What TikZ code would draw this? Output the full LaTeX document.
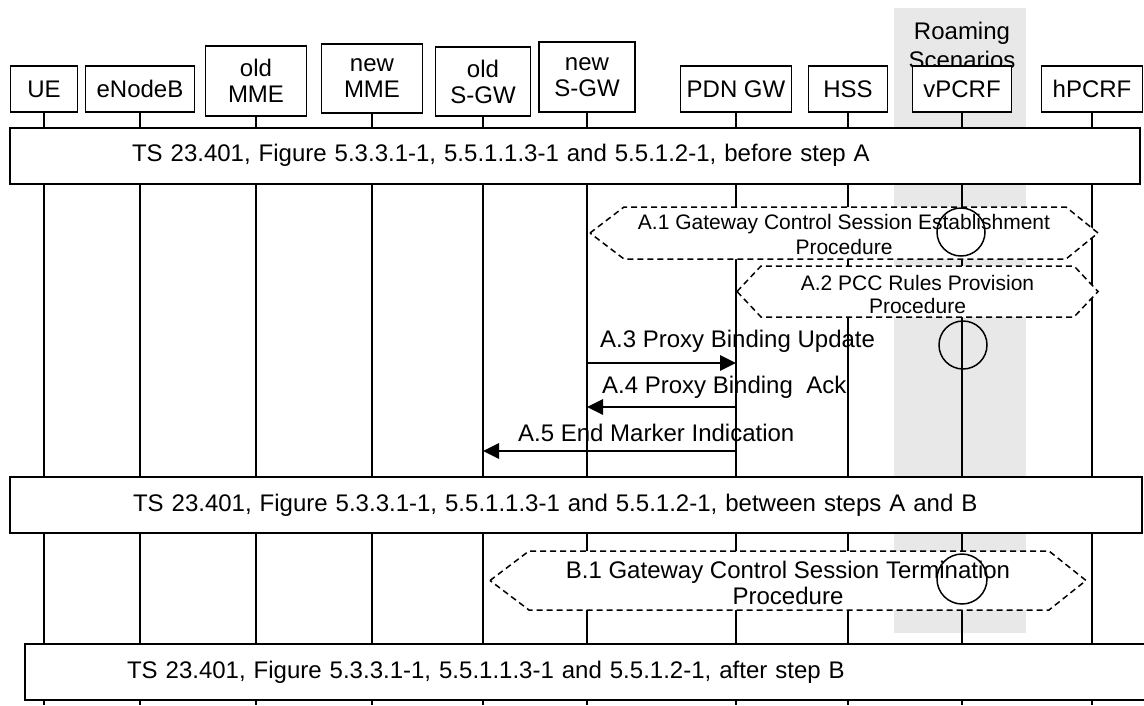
\documentclass[tikz,border=0pt]{standalone}
\usepackage{fontspec}
\setmainfont{Liberation Sans}
\usepackage{xcolor}
\usetikzlibrary{arrows.meta}
\definecolor{roamgrey}{RGB}{232,232,232}

\begin{document}
\begin{tikzpicture}[x=1pt, y=-1pt,
      ent/.style={draw, fill=white, line width=1.5pt, align=center, inner sep=0pt,
        font=\fontsize{24}{26}\selectfont},
      bar/.style={draw, fill=white, line width=2pt, align=left, inner ysep=0pt,
        minimum height=56pt, font=\fontsize{24}{28}\selectfont},
      life/.style={line width=1.2pt},
      hexa/.style={draw, fill=white, dash pattern=on 6pt off 4pt, line width=1.5pt},
      proc/.style={align=center, inner sep=0pt},
      ring/.style={draw, circle, line width=1.5pt, inner sep=0pt, minimum size=48pt},
      arr/.style={-{Triangle[length=16pt, width=15pt]}, line width=2.8pt},
      lbl/.style={anchor=base west, inner sep=0pt, font=\fontsize{24}{28}\selectfont}
    ]
    \useasboundingbox (0,0) rectangle (1144,705);
    \fill[roamgrey] (894,8) rectangle (1026,633);
    \node[align=center, inner sep=0pt, font=\fontsize{24}{29}\selectfont] (roam) at (962,45) {Roaming\\Scenarios};

    \node[ent, minimum width=67pt, minimum height=46pt] (ue) at (44,89) {UE};
    \node[ent, minimum width=109pt, minimum height=46pt] (enb) at (140,89) {eNodeB};
    \node[ent, minimum width=101pt, minimum height=70pt] (mme-old) at (256,81) {old\\MME};
    \node[ent, minimum width=101pt, minimum height=69pt] (mme-new) at (372,78.5) {new\\MME};
    \node[ent, minimum width=95pt, minimum height=69pt] (sgw-old) at (483,81.5) {old\\S-GW};
    \node[ent, minimum width=96pt, minimum height=70pt] (sgw-new) at (587,77) {new\\S-GW};
    \node[ent, minimum width=111pt, minimum height=46pt] (pgw) at (736,89) {PDN GW};
    \node[ent, minimum width=79pt, minimum height=46pt] (hss) at (848,89) {HSS};
    \node[ent, minimum width=99pt, minimum height=46pt] (vpcrf) at (962,89) {vPCRF};
    \node[ent, minimum width=101pt, minimum height=46pt] (hpcrf) at (1092,89) {hPCRF};

    \coordinate (bot) at (0,705);
    \draw[life] (ue) -- (ue |- bot);
    \draw[life] (enb) -- (enb |- bot);
    \draw[life] (mme-old) -- (mme-old |- bot);
    \draw[life] (mme-new) -- (mme-new |- bot);
    \draw[life] (sgw-old) -- (sgw-old |- bot);
    \draw[life] (sgw-new) -- (sgw-new |- bot);
    \draw[life] (pgw) -- (pgw |- bot);
    \draw[life] (hss) -- (hss |- bot);
    \draw[life] (vpcrf) -- (vpcrf |- bot);
    \draw[life] (hpcrf) -- (hpcrf |- bot);

    \node[bar, minimum width=1130pt, text width=886pt, inner xsep=122pt] (before-a) at (575,155.5)
      {TS 23.401, Figure 5.3.3.1-1, 5.5.1.1.3-1 and 5.5.1.2-1, before step A};
    \node[bar, minimum width=1132pt, text width=886pt, inner xsep=123pt] (between-ab) at (576,505)
      {TS 23.401, Figure 5.3.3.1-1, 5.5.1.1.3-1 and 5.5.1.2-1, between steps A and B};
    \node[bar, minimum width=1125pt, text width=921pt, inner xsep=102pt] (after-b) at (587.5,672)
      {TS 23.401, Figure 5.3.3.1-1, 5.5.1.1.3-1 and 5.5.1.2-1, after step B};

    \path[hexa] (590,233) -- (624,207) -- (1066,207) -- (1098,233) -- (1066,259) -- (624,259) -- cycle;
    \path[hexa] (737,291.5) -- (761,266) -- (1074,266) -- (1098,291.5) -- (1074,317) -- (761,317) -- cycle;
    \path[hexa] (490,580.5) -- (529,551) -- (1049,551) -- (1086,580.5) -- (1049,610) -- (529,610) -- cycle;

    \node[proc, font=\fontsize{21}{25}\selectfont] (gw-est) at (844,234)
      {A.1 Gateway Control Session Establishment\\Procedure};
    \node[proc, font=\fontsize{21}{23}\selectfont] (pcc) at (917.5,294.5)
      {A.2 PCC Rules Provision\\Procedure};
    \node[proc, font=\fontsize{24}{26}\selectfont] (gw-term) at (788,583)
      {B.1 Gateway Control Session Termination\\Procedure};

    \node[ring] (v1) at (961,232) {};
    \node[ring] (v2) at (963,345) {};
    \node[ring, minimum size=50pt] (v3) at (962,579) {};

    \coordinate (m3) at (0,363);
    \coordinate (m4) at (0,407);
    \coordinate (m5) at (0,451);
    \draw[arr] (sgw-new |- m3) -- (pgw |- m3);
    \draw[arr] (pgw |- m4) -- (sgw-new |- m4);
    \draw[arr] (pgw |- m5) -- (sgw-old |- m5);

    \node[lbl] (m3-l) at (600,347) {A.3 Proxy Binding Update};
    \node[lbl] (m4-l) at (602,393) {A.4 Proxy Binding~ Ack};
    \node[lbl] (m5-l) at (518,441) {A.5 End Marker Indication};
  \end{tikzpicture}
\end{document}
